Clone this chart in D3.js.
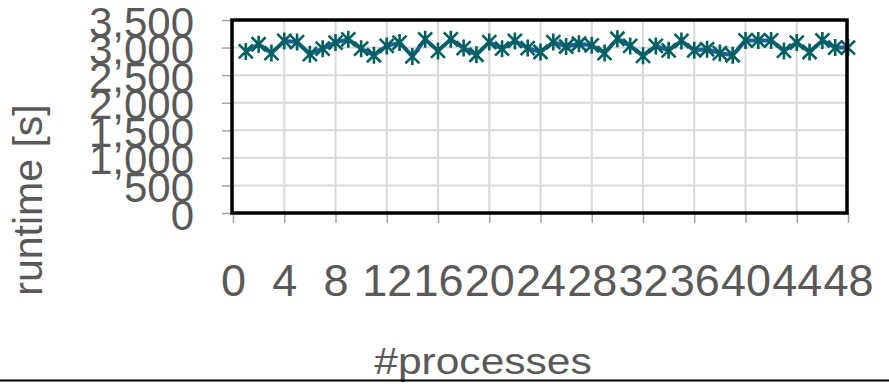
<!DOCTYPE html>
<html>
<head>
<meta charset="utf-8">
<script src="https://cdn.jsdelivr.net/npm/d3@7"></script>
<style>
  html, body { margin: 0; padding: 0; background: #fff; }
  svg { display: block; }
  text { font-family: "Liberation Sans", Arial, sans-serif; fill: #595959; }
</style>
</head>
<body>
<svg id="chart" width="889" height="384"></svg>
<script>
const processes = [1,2,3,4,5,6,7,8,9,10,11,12,13,14,15,16,17,18,19,20,21,22,23,24,
                   25,26,27,28,29,30,31,32,33,34,35,36,37,38,39,40,41,42,43,44,45,46,47,48];
const runtime = [2930,3060,2900,3120,3100,2880,2980,3090,3150,2980,2860,3030,3090,2840,3150,2940,
                 3150,2990,2870,3100,2980,3120,2990,2920,3100,3020,3070,3040,2900,3160,3030,2850,
                 3030,2950,3120,2950,2970,2900,2860,3130,3130,3130,2940,3090,2920,3130,3000,3000];
const xTicks = [0,4,8,12,16,20,24,28,32,36,40,44,48];
const yTicks = [0,500,1000,1500,2000,2500,3000,3500];
const xTitle = "#processes";
const yTitle = "runtime [s]";

const svg = d3.select("#chart");
const x = d3.scaleLinear().domain([0, 48]).range([233, 848]);
const y = d3.scaleLinear().domain([0, 3500]).range([213, 20]);

// gridlines
const grid = svg.append("g");
grid.selectAll("line.h").data(yTicks).join("line")
  .attr("x1", x(0)).attr("x2", x(48))
  .attr("y1", d => y(d)).attr("y2", d => y(d))
  .attr("stroke", "#d9d9d9").attr("stroke-width", 2);
grid.selectAll("line.v").data(xTicks).join("line")
  .attr("y1", y(0)).attr("y2", y(3500))
  .attr("x1", d => x(d)).attr("x2", d => x(d))
  .attr("stroke", "#d9d9d9").attr("stroke-width", 2);

// y axis
const yAxis = svg.append("g").attr("transform", `translate(${x(0) - 1},0)`)
  .call(d3.axisLeft(y).tickValues(yTicks).tickSize(10).tickFormat(d3.format(",")));
yAxis.select(".domain").remove();
yAxis.selectAll(".tick line").attr("stroke", "#a6a6a6").attr("stroke-width", 1.5);
yAxis.selectAll(".tick text")
  .attr("x", -38).attr("y", 16).attr("dy", null)
  .attr("text-anchor", "end")
  .style("font-size", "42px").attr("fill", "#595959");

// x axis
const xAxis = svg.append("g").attr("transform", `translate(0,${y(0)})`)
  .call(d3.axisBottom(x).tickValues(xTicks).tickSize(10).tickFormat(d3.format("d")));
xAxis.select(".domain").remove();
xAxis.selectAll(".tick line").attr("stroke", "#a6a6a6").attr("stroke-width", 1.5);
xAxis.selectAll(".tick text")
  .attr("y", 83).attr("dy", null)
  .style("font-size", "45px").attr("fill", "#595959");

// series line
const pts = processes.map((p, i) => [p, runtime[i]]);
svg.append("path").datum(pts)
  .attr("d", d3.line().x(d => x(d[0])).y(d => y(d[1])))
  .attr("fill", "none").attr("stroke", "#1d5f9c").attr("stroke-width", 4)
  .attr("stroke-linejoin", "round");

// asterisk markers
const m = svg.append("g").selectAll("g").data(pts).join("g")
  .attr("transform", d => `translate(${x(d[0])},${y(d[1])})`)
  .attr("stroke", "#00605e").attr("stroke-width", 2.6).attr("fill", "none");
m.append("path").attr("d", "M-7,-7L7,7M-7,7L7,-7M0,-8.5L0,8.5");

// frame
svg.append("rect")
  .attr("x", x(0) - 1).attr("y", y(3500))
  .attr("width", x(48) - x(0)).attr("height", y(0) - y(3500))
  .attr("fill", "none").attr("stroke", "#000").attr("stroke-width", 3.5);

// titles
svg.append("text")
  .attr("transform", "translate(483,374) scale(1.15,1)")
  .attr("text-anchor", "middle")
  .style("font-size", "37px").text(xTitle);
svg.append("text")
  .attr("transform", "translate(42,200) rotate(-90)")
  .attr("text-anchor", "middle")
  .style("font-size", "41px").text(yTitle);

// bottom rule
svg.append("line").attr("x1", 0).attr("x2", 889).attr("y1", 380.5).attr("y2", 380.5)
  .attr("stroke", "#000").attr("stroke-width", 2);
</script>
</body>
</html>
